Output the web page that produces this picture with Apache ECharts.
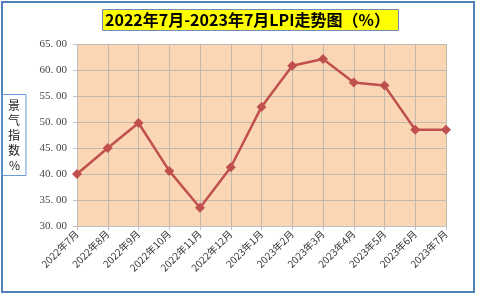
<!DOCTYPE html>
<html><head><meta charset="utf-8">
<script src="https://cdn.jsdelivr.net/npm/echarts@6/dist/echarts.min.js"></script>
<style>
html,body{margin:0;padding:0;background:#fff;}
#frame{position:absolute;left:1px;top:1px;width:470px;height:288px;border:2px solid #4F81BD;}
#c{position:absolute;left:0;top:0;width:477px;height:295px;}
</style></head>
<body>
<div id="frame"></div>
<div id="c"></div>
<script>
const categories = ['2022年7月','2022年8月','2022年9月','2022年10月','2022年11月','2022年12月','2023年1月','2023年2月','2023年3月','2023年4月','2023年5月','2023年6月','2023年7月'];
const lpiValues = [40.0, 45.0, 49.8, 40.6, 33.5, 41.3, 52.9, 60.8, 62.1, 57.6, 57.0, 48.5, 48.5];
const titleText = '2022年7月-2023年7月LPI走势图（%）';
const yAxisName = '景\n气\n指\n数\n%';

const chart = echarts.init(document.getElementById('c'));
chart.setOption({
  animation:false,
  title:{
    text:titleText, left:102, top:9,
    backgroundColor:'#FFFF00', borderColor:'#6A8FC0', borderWidth:1,
    padding:[3,9,3,3],
    textStyle:{fontSize:16, fontWeight:'bold', color:'#000', fontFamily:'Noto Sans CJK SC'}
  },
  grid:{left:77, right:31, top:44, bottom:69, show:true, backgroundColor:'#FBD6B4', borderWidth:0, outerBoundsMode:'none', containLabel:false},
  xAxis:{
    type:'category', data:categories, boundaryGap:false,
    axisLine:{lineStyle:{color:'#BFBFBF'}},
    axisTick:{show:true, alignWithLabel:true, length:4, lineStyle:{color:'#BFBFBF'}},
    axisLabel:{rotate:45, fontSize:10, color:'#333', margin:6, fontFamily:'Noto Sans CJK SC'},
    splitLine:{show:true, lineStyle:{color:'#C4B8AC', width:1}}
  },
  yAxis:{
    type:'value', min:30, max:65, interval:5,
    name:yAxisName, nameLocation:'middle', nameRotate:0, nameGap:51,
    nameTextStyle:{fontSize:12, color:'#222', fontWeight:'normal', borderColor:'#6A9BD8', borderWidth:1, padding:[3,6,3,6], lineHeight:15, fontFamily:'Noto Sans CJK SC'},
    axisLine:{show:true, lineStyle:{color:'#BFBFBF'}},
    axisTick:{show:true, length:4, lineStyle:{color:'#BFBFBF'}},
    axisLabel:{fontSize:11, color:'#444', margin:10, fontFamily:'Liberation Serif', formatter:v=>v.toFixed(2).replace('.', '. ')},
    splitLine:{show:true, lineStyle:{color:'#C4B8AC', width:1}}
  },
  series:[{
    type:'line', data:lpiValues,
    lineStyle:{color:'#C0504D', width:2.5},
    itemStyle:{color:'#C0504D'},
    symbol:'diamond', symbolSize:10, showAllSymbol:true
  }]
});
</script>
</body></html>
